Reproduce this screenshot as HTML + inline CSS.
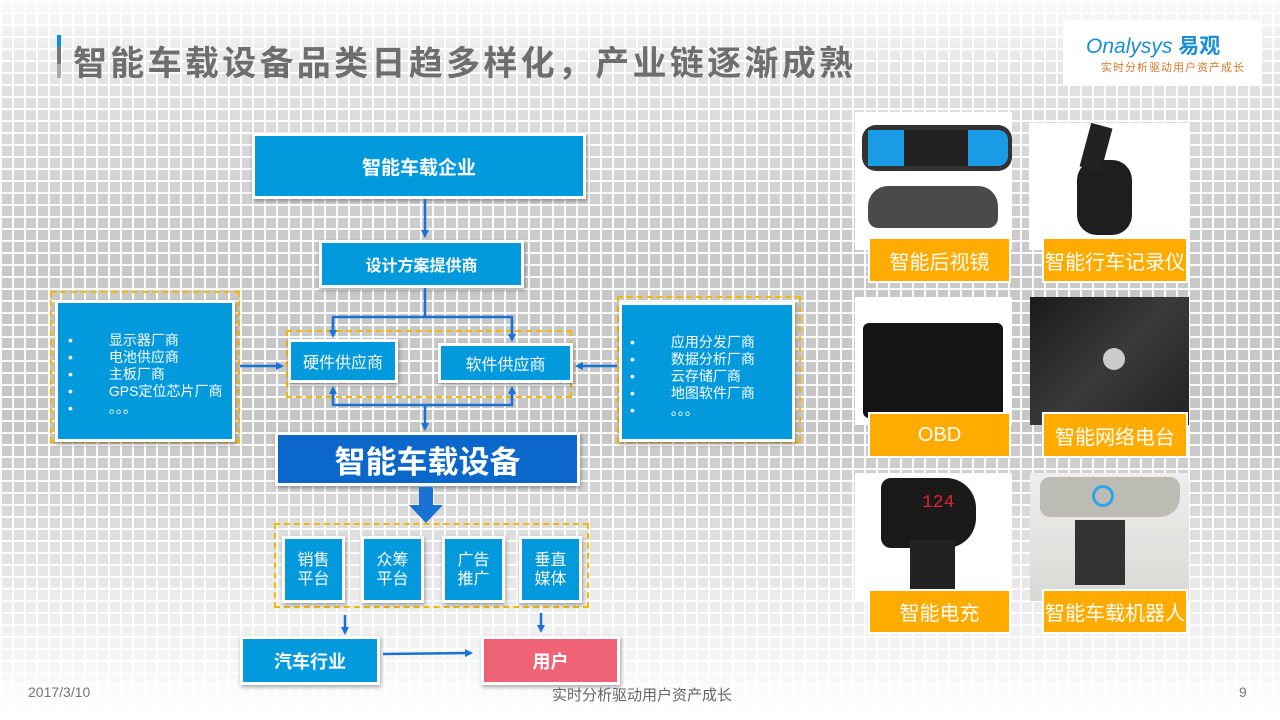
<!DOCTYPE html>
<html><head><meta charset="utf-8"><style>
*{margin:0;padding:0;box-sizing:border-box}
body{width:1280px;height:720px;overflow:hidden;position:relative;font-family:"Liberation Sans","Noto Sans CJK SC",sans-serif;
background:linear-gradient(to bottom,#fafafa 0px,#e0e0e0 90px,#c9c9c9 250px,#c6c6c6 430px,#e4e4e4 560px,#fbfbfb 690px,#fff 720px);}
.grid{position:absolute;left:0;top:0;width:1280px;height:720px;
background-image:repeating-linear-gradient(to right,rgba(255,255,255,.9) 0 2px,transparent 2px 12px),repeating-linear-gradient(to bottom,rgba(255,255,255,.9) 0 2px,transparent 2px 12px);}
.a{position:absolute}
.b{position:absolute;background:#0399dd;border:3px solid #fff;box-shadow:1px 2px 4px rgba(0,0,0,.35);color:#fff;display:flex;align-items:center;justify-content:center;text-align:center}
.d{position:absolute;border:2px dashed #f5b800}
.cap{position:absolute;background:#ffab00;border:2px solid #fff;color:#fff;font-size:20px;display:flex;align-items:center;justify-content:center}
.ph{position:absolute;background:#fff}
</style></head><body>
<div class="grid"></div>
<!-- title -->
<div class="a" style="left:57px;top:35px;width:4px;height:12px;background:#0a8fdc"></div>
<div class="a" style="left:57px;top:47px;width:4px;height:17px;background:#777"></div>
<div class="a" style="left:57px;top:64px;width:4px;height:14px;background:#aaa"></div>
<div class="a" style="left:73px;top:36px;font-size:34px;font-weight:bold;color:#6e6e6e;letter-spacing:3.3px;white-space:nowrap">智能车载设备品类日趋多样化，产业链逐渐成熟</div>
<!-- logo -->
<div class="a" style="left:1063px;top:20px;width:199px;height:66px;background:#fff"></div>
<div class="a" style="left:1086px;top:30px;font-size:21px;color:#1a8fd6;font-style:italic;white-space:nowrap">Onalysys <b style="font-style:normal">易观</b></div>
<div class="a" style="left:1101px;top:59px;font-size:11px;color:#d9782a;letter-spacing:1px;white-space:nowrap">实时分析驱动用户资产成长</div>

<!-- diagram boxes -->
<div class="b" style="left:252px;top:133px;width:334px;height:66px;font-size:19px;font-weight:bold">智能车载企业</div>
<div class="b" style="left:319px;top:240px;width:205px;height:48px;font-size:16px;font-weight:bold">设计方案提供商</div>
<div class="d" style="left:286px;top:330px;width:286px;height:68px"></div>
<div class="b" style="left:288px;top:339px;width:110px;height:44px;font-size:16px">硬件供应商</div>
<div class="b" style="left:438px;top:343px;width:135px;height:40px;font-size:16px">软件供应商</div>
<div class="d" style="left:50px;top:291px;width:190px;height:152px"></div>
<div class="b" style="left:55px;top:300px;width:180px;height:142px;justify-content:flex-start;align-items:flex-start;text-align:left;font-size:14px;line-height:17px;padding:29px 0 0 10px">
<div>•<br>•<br>•<br>•<br>•</div><div style="margin-left:36px">显示器厂商<br>电池供应商<br>主板厂商<br>GPS定位芯片厂商<br>。。。</div></div>
<div class="d" style="left:617px;top:296px;width:184px;height:147px"></div>
<div class="b" style="left:619px;top:302px;width:176px;height:140px;justify-content:flex-start;align-items:flex-start;text-align:left;font-size:14px;line-height:17px;padding:29px 0 0 8px">
<div>•<br>•<br>•<br>•<br>•</div><div style="margin-left:36px">应用分发厂商<br>数据分析厂商<br>云存储厂商<br>地图软件厂商<br>。。。</div></div>
<div class="b" style="left:275px;top:432px;width:305px;height:54px;background:#0b67c9;font-size:31px;font-weight:bold">智能车载设备</div>
<div class="d" style="left:274px;top:523px;width:315px;height:85px"></div>
<div class="b" style="left:282px;top:536px;width:63px;height:67px;font-size:16px;line-height:19px">销售<br>平台</div>
<div class="b" style="left:361px;top:536px;width:63px;height:67px;font-size:16px;line-height:19px">众筹<br>平台</div>
<div class="b" style="left:442px;top:536px;width:63px;height:67px;font-size:16px;line-height:19px">广告<br>推广</div>
<div class="b" style="left:519px;top:536px;width:63px;height:67px;font-size:16px;line-height:19px">垂直<br>媒体</div>
<div class="b" style="left:240px;top:636px;width:140px;height:49px;font-size:18px;font-weight:bold">汽车行业</div>
<div class="b" style="left:481px;top:636px;width:139px;height:49px;background:#f06276;font-size:18px;font-weight:bold">用户</div>

<svg class="a" style="left:0;top:0" width="1280" height="720">
<defs><marker id="m" markerWidth="8" markerHeight="8" refX="6" refY="4" orient="auto" markerUnits="userSpaceOnUse"><path d="M0,0 L8,4 L0,8z" fill="#1a72d2"/></marker></defs>
<g stroke="#1a72d2" stroke-width="2.5" fill="none">
<line x1="425" y1="199" x2="425" y2="236" marker-end="url(#m)"/>
<line x1="425" y1="288" x2="425" y2="316"/>
<polyline points="333,333 333,317 512,317 512,333"/>
<line x1="333" y1="320" x2="333" y2="336" marker-end="url(#m)"/>
<line x1="512" y1="320" x2="512" y2="340" marker-end="url(#m)"/>
<polyline points="333,393 333,405 512,405 512,393"/>
<line x1="333" y1="400" x2="333" y2="388" marker-end="url(#m)"/>
<line x1="512" y1="400" x2="512" y2="388" marker-end="url(#m)"/>
<line x1="425" y1="405" x2="425" y2="429" marker-end="url(#m)"/>
<line x1="240" y1="366" x2="282" y2="366" marker-end="url(#m)"/>
<line x1="617" y1="366" x2="577" y2="366" marker-end="url(#m)"/>
<line x1="345" y1="615" x2="345" y2="633" marker-end="url(#m)"/>
<line x1="541" y1="613" x2="541" y2="631" marker-end="url(#m)"/>
<line x1="383" y1="654" x2="471" y2="653" marker-end="url(#m)"/>
</g>
<path d="M419,487 L433,487 L433,505 L443,505 L426,523 L409,505 L419,505z" fill="#1a72d2"/>
</svg>

<!-- photos -->
<div class="ph" style="left:855px;top:112px;width:157px;height:138px"></div>
<div class="a" style="left:862px;top:125px;width:150px;height:46px;background:#333;border-radius:14px"></div>
<div class="a" style="left:868px;top:130px;width:36px;height:36px;background:#1a9be6"></div>
<div class="a" style="left:968px;top:130px;width:40px;height:36px;background:#1a9be6;border-radius:0 10px 10px 0"></div>
<div class="a" style="left:904px;top:130px;width:64px;height:36px;background:#222"></div>
<div class="a" style="left:868px;top:186px;width:130px;height:42px;background:#4a4a4a;border-radius:20px 20px 10px 10px"></div>
<div class="cap" style="left:868px;top:237px;width:143px;height:46px">智能后视镜</div>

<div class="ph" style="left:1029px;top:123px;width:160px;height:127px"></div>
<div class="a" style="left:1077px;top:160px;width:55px;height:75px;background:#1e1e1e;border-radius:20px"></div>
<div class="a" style="left:1085px;top:125px;width:22px;height:45px;background:#222;transform:rotate(15deg)"></div>
<div class="cap" style="left:1042px;top:237px;width:146px;height:46px">智能行车记录仪</div>

<div class="ph" style="left:855px;top:297px;width:157px;height:128px"></div>
<div class="a" style="left:863px;top:323px;width:140px;height:95px;background:#141414;border-radius:6px"></div>
<div class="cap" style="left:868px;top:412px;width:143px;height:46px">OBD</div>

<div class="a" style="left:1030px;top:297px;width:159px;height:128px;background:linear-gradient(135deg,#1a1a1a,#3a3a3a 50%,#222)"></div>
<div class="a" style="left:1103px;top:348px;width:22px;height:22px;background:#ccc;border-radius:50%"></div>
<div class="cap" style="left:1042px;top:412px;width:146px;height:46px">智能网络电台</div>

<div class="ph" style="left:855px;top:473px;width:157px;height:128px"></div>
<div class="a" style="left:881px;top:478px;width:95px;height:70px;background:#1a1a1a;border-radius:10px 30px 30px 10px"></div>
<div class="a" style="left:910px;top:540px;width:45px;height:50px;background:#222"></div>
<div class="a" style="left:922px;top:493px;font-size:18px;color:#d23;font-family:'Liberation Mono',monospace">124</div>
<div class="cap" style="left:868px;top:589px;width:143px;height:45px">智能电充</div>

<div class="a" style="left:1030px;top:473px;width:159px;height:128px;background:linear-gradient(#eeeeec,#d8d8d4)"></div>
<div class="a" style="left:1040px;top:477px;width:140px;height:40px;background:#bcbcb5;border-radius:10px 10px 20px 10px"></div>
<div class="a" style="left:1092px;top:485px;width:22px;height:22px;border:3px solid #2aa6e6;border-radius:50%"></div>
<div class="a" style="left:1075px;top:520px;width:50px;height:65px;background:#333"></div>
<div class="cap" style="left:1042px;top:589px;width:146px;height:45px">智能车载机器人</div>

<!-- footer -->
<div class="a" style="left:28px;top:684px;font-size:14px;color:#777">2017/3/10</div>
<div class="a" style="left:552px;top:684px;font-size:15px;color:#666">实时分析驱动用户资产成长</div>
<div class="a" style="left:1239px;top:684px;font-size:14px;color:#777">9</div>
</body></html>
